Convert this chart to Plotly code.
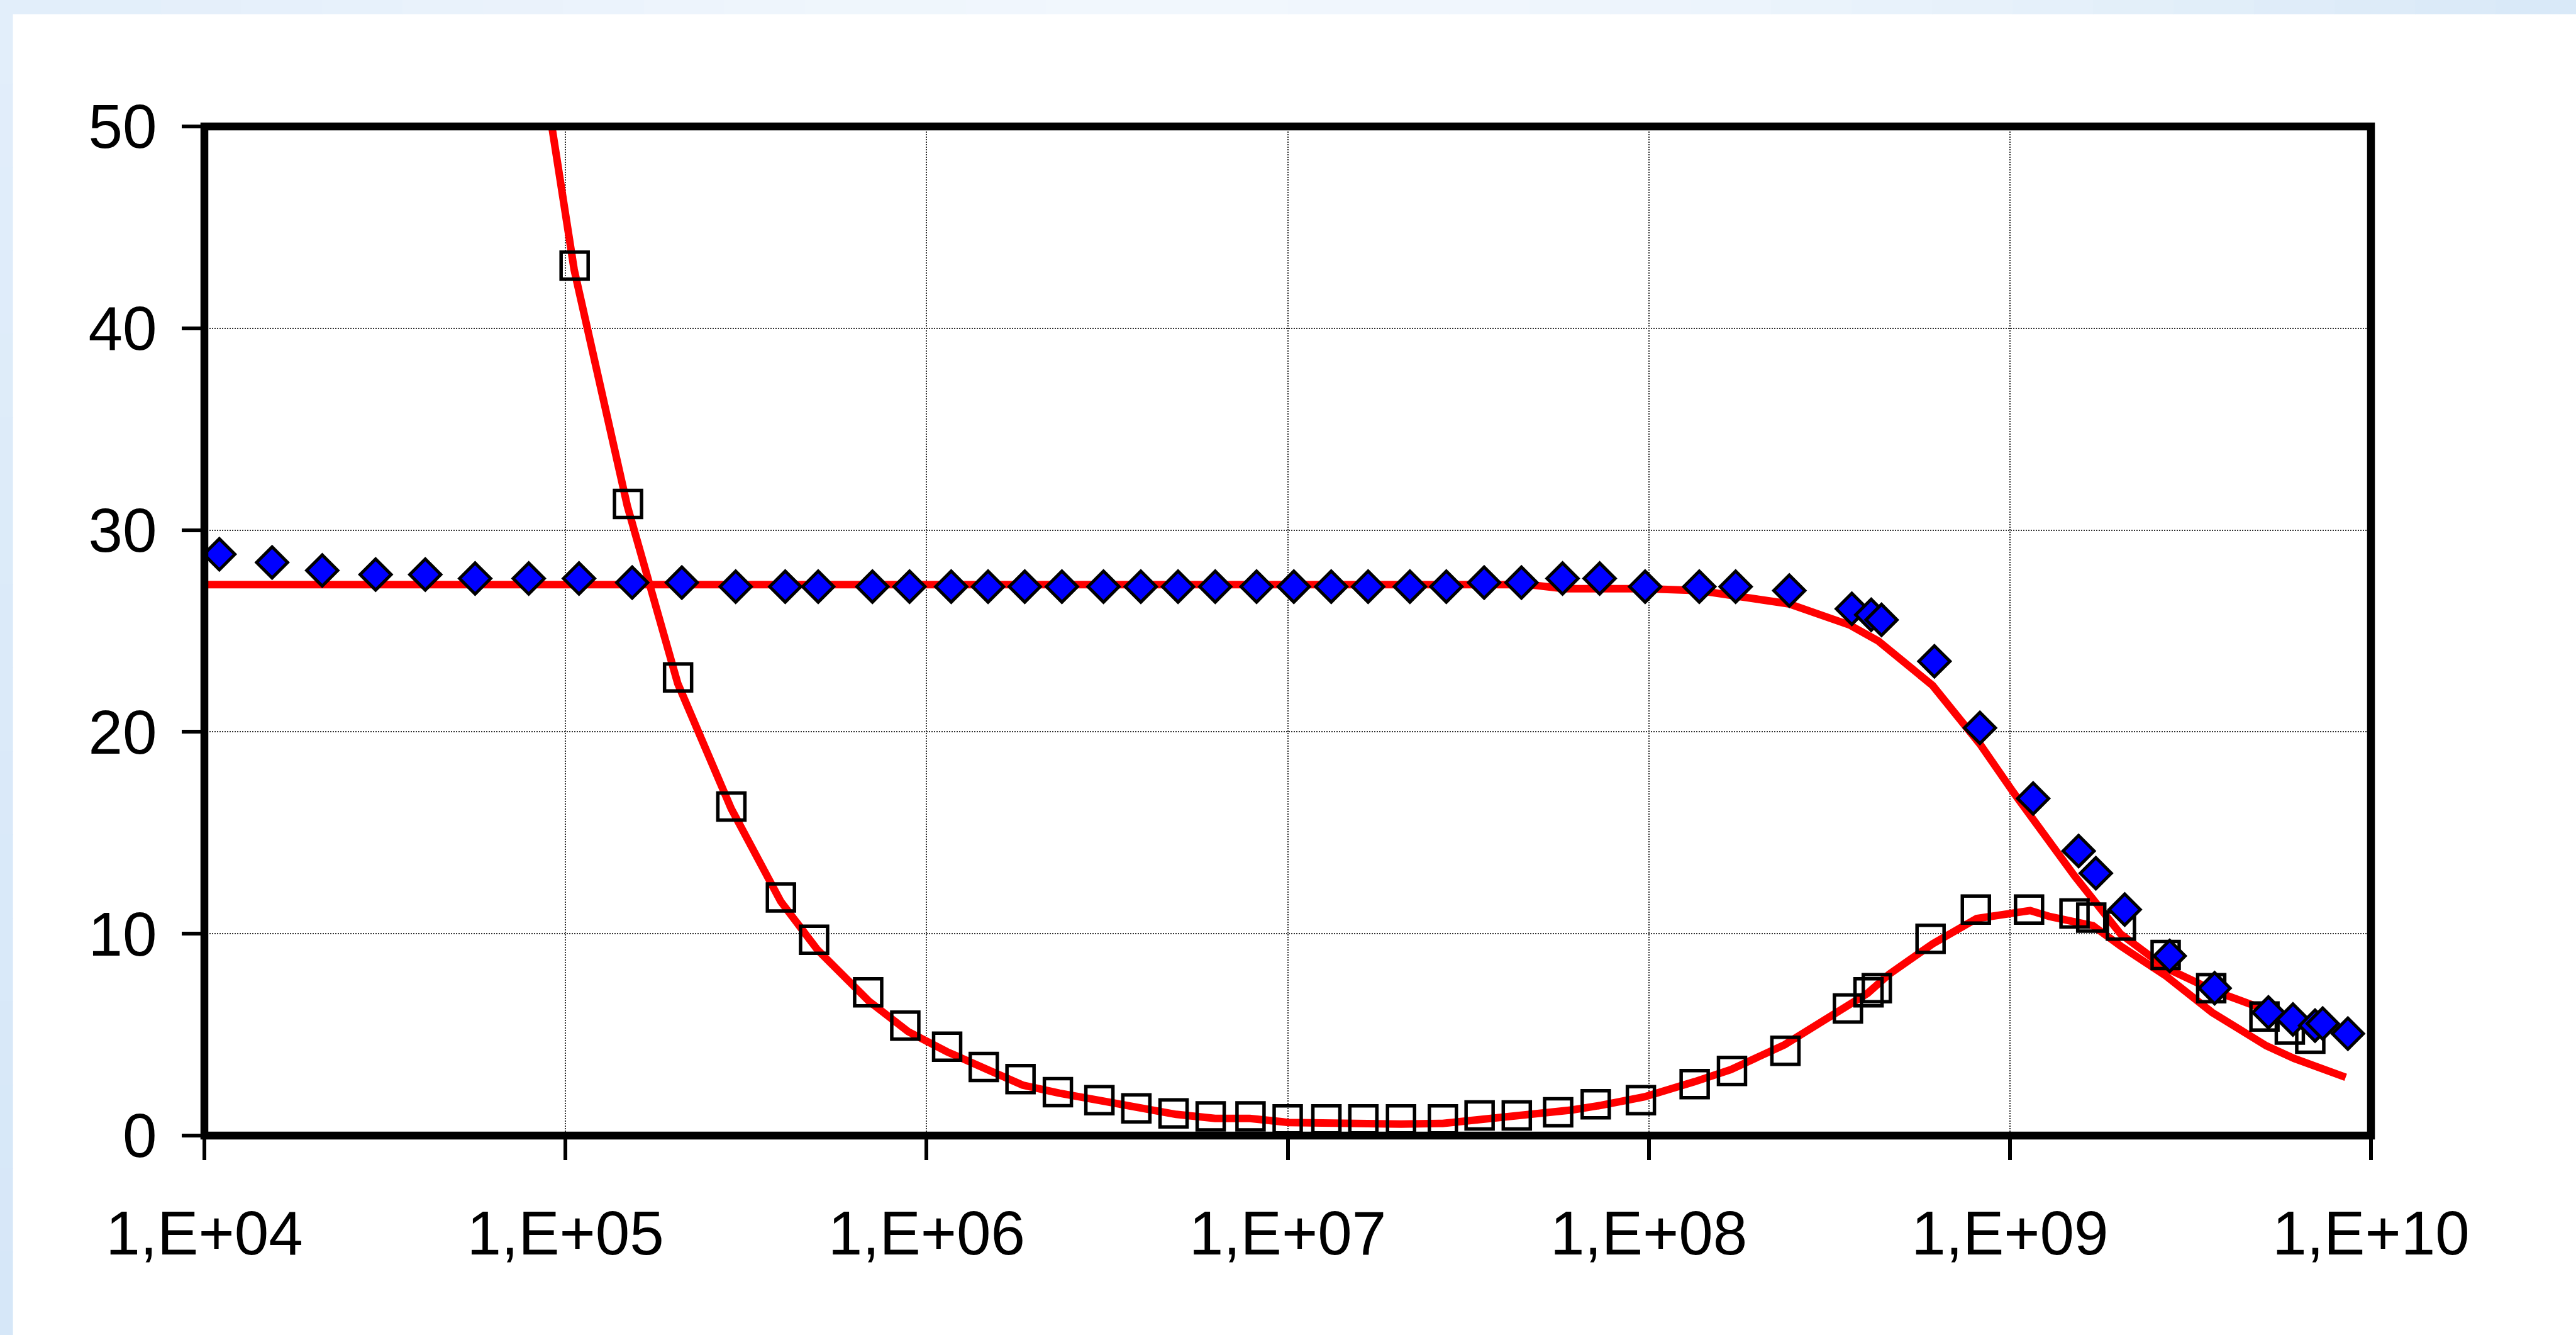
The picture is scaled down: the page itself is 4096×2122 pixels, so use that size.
import plotly.graph_objects as go

# ---------------- data ----------------
freq_meas1 = [1.10e4, 1.54e4, 2.12e4, 2.98e4, 4.09e4, 5.62e4, 7.91e4, 1.09e5, 1.53e5, 2.10e5,
              2.96e5, 4.06e5, 5.01e5, 7.08e5, 8.97e5, 1.17e6, 1.48e6, 1.87e6, 2.37e6, 3.09e6,
              3.92e6, 4.97e6, 6.30e6, 8.20e6, 1.04e7, 1.32e7, 1.67e7, 2.18e7, 2.75e7, 3.50e7,
              4.44e7, 5.77e7, 7.31e7, 9.77e7, 1.38e8, 1.74e8, 2.45e8, 3.65e8, 4.13e8, 4.41e8,
              6.18e8, 8.26e8, 1.16e9, 1.55e9, 1.73e9, 2.08e9, 2.77e9, 3.69e9, 5.20e9, 6.08e9,
              7.00e9, 7.35e9, 8.63e9]
eps_real = [28.8, 28.4, 28.0, 27.8, 27.8, 27.6, 27.6, 27.6, 27.4, 27.4,
            27.2, 27.2, 27.2, 27.2, 27.2, 27.2, 27.2, 27.2, 27.2, 27.2,
            27.2, 27.2, 27.2, 27.2, 27.2, 27.2, 27.2, 27.2, 27.2, 27.4,
            27.4, 27.6, 27.6, 27.2, 27.2, 27.2, 27.0, 26.1, 25.8, 25.55,
            23.5, 20.2, 16.7, 14.1, 13.0, 11.2, 8.9, 7.3, 6.1, 5.75,
            5.45, 5.55, 5.05]

freq_meas2 = [1.06e5, 1.49e5, 2.05e5, 2.88e5, 3.95e5, 4.88e5, 6.89e5, 8.73e5, 1.14e6, 1.44e6,
              1.82e6, 2.31e6, 3.01e6, 3.81e6, 4.83e6, 6.12e6, 7.89e6, 1.00e7, 1.28e7, 1.62e7,
              2.06e7, 2.69e7, 3.40e7, 4.31e7, 5.61e7, 7.13e7, 9.51e7, 1.34e8, 1.70e8, 2.39e8,
              3.56e8, 4.06e8, 4.28e8, 6.03e8, 8.05e8, 1.13e9, 1.51e9, 1.68e9, 2.03e9, 2.70e9,
              3.61e9, 5.07e9, 5.96e9, 6.79e9]
eps_imag = [43.1, 31.3, 22.7, 16.3, 11.8, 9.7, 7.1, 5.45, 4.4, 3.4,
            2.8, 2.15, 1.75, 1.35, 1.1, 0.95, 0.95, 0.8, 0.8, 0.8,
            0.8, 0.8, 1.0, 1.0, 1.15, 1.55, 1.75, 2.55, 3.2, 4.2,
            6.3, 7.1, 7.3, 9.75, 11.2, 11.2, 11.0, 10.8, 10.4, 8.95,
            7.3, 5.9, 5.25, 4.8]

freq_fit1 = [1.0e4, 4.656e7, 5.834e7, 9.727e7, 1.380e8, 1.758e8, 2.438e8, 3.597e8, 4.325e8,
             6.109e8, 8.260e8, 1.023e9, 1.514e9, 2.023e9, 2.710e9, 3.707e9, 5.164e9, 7.194e9]
fit_real = [27.3, 27.3, 27.1, 27.1, 27.0, 26.75, 26.35, 25.3, 24.5,
            22.3, 19.4, 17.0, 12.84, 10.0, 8.3, 7.15, 6.2, 5.45]

freq_fit2 = [9.02e4, 1.057e5, 1.483e5, 2.046e5, 2.877e5, 3.945e5, 4.989e5, 6.934e5, 8.892e5,
             1.140e6, 1.462e6, 1.845e6, 2.333e6, 3.076e6, 3.890e6, 4.909e6, 6.295e6, 7.852e6,
             1.005e7, 1.276e7, 1.618e7, 2.061e7, 2.685e7, 3.396e7, 4.656e7, 6.138e7, 7.379e7,
             9.727e7, 1.340e8, 1.687e8, 2.377e8, 3.516e8, 4.036e8, 4.634e8, 6.109e8, 8.091e8,
             1.138e9, 1.291e9, 1.698e9, 2.023e9, 2.710e9, 3.631e9, 5.129e9, 6.124e9, 7.295e9,
             8.511e9]
fit_imag = [50.8, 42.9, 31.2, 22.4, 16.2, 11.6, 9.2, 6.65, 5.15,
            4.15, 3.3, 2.5, 2.1, 1.7, 1.3, 1.05, 0.85, 0.85,
            0.65, 0.6, 0.58, 0.57, 0.6, 0.78, 1.0, 1.27, 1.5,
            1.92, 2.67, 3.27, 4.5, 6.35, 7.05, 8.0, 9.5, 10.75,
            11.15, 10.85, 10.4, 9.4, 7.9, 6.1, 4.45, 3.82, 3.3,
            2.89]

x_tickvals = [1e4, 1e5, 1e6, 1e7, 1e8, 1e9, 1e10]
x_ticktext = ["1,E+04", "1,E+05", "1,E+06", "1,E+07", "1,E+08", "1,E+09", "1,E+10"]
y_tickvals = [0, 10, 20, 30, 40, 50]
y_ticktext = ["0", "10", "20", "30", "40", "50"]

# ---------------- layout geometry ----------------
W, H = 4096, 2122
L, R, T, B = 325, 3770, 201, 1805
PW, PH = R - L, B - T

def px(xp):
    return (xp - L) / PW

def py(yp):
    return 1 - (yp - T) / PH

FONT = "Liberation Sans, Arial, sans-serif"
FS = 98

fig = go.Figure()

fig.add_trace(go.Scatter(x=freq_fit1, y=fit_real, mode="lines",
                         line=dict(color="#ff0000", width=12), showlegend=False))
fig.add_trace(go.Scatter(x=freq_fit2, y=fit_imag, mode="lines",
                         line=dict(color="#ff0000", width=12), showlegend=False))
fig.add_trace(go.Scatter(x=freq_meas2, y=eps_imag, mode="markers",
                         marker=dict(symbol="square", size=43, color="rgba(255,255,255,0)",
                                     line=dict(color="black", width=5.5)),
                         showlegend=False, cliponaxis=False))
fig.add_trace(go.Scatter(x=freq_meas1, y=eps_real, mode="markers",
                         marker=dict(symbol="diamond", size=38, color="#0000ff",
                                     line=dict(color="black", width=5)),
                         showlegend=False, cliponaxis=False))

# background gradient strips (top and left)
shapes = []
top_h = 22.5
left_w = 20.6
top_cols = [(226, 238, 250), (232, 241, 251), (238, 245, 252), (241, 247, 253),
            (240, 246, 253), (234, 243, 251), (226, 238, 249), (217, 233, 248)]
n = 32
for i in range(n):
    t = i / (n - 1) * (len(top_cols) - 1)
    k = min(int(t), len(top_cols) - 2)
    f = t - k
    c = tuple(int(round(top_cols[k][j] * (1 - f) + top_cols[k + 1][j] * f)) for j in range(3))
    x0 = W * i / n
    x1 = W * (i + 1) / n + 1
    shapes.append(dict(type="rect", xref="paper", yref="paper", layer="below",
                       x0=px(x0), x1=px(x1), y0=py(0), y1=py(top_h),
                       fillcolor="rgb(%d,%d,%d)" % c, line=dict(width=0)))
left_cols = [(226, 238, 250), (219, 234, 249), (214, 231, 248)]
m = 16
for i in range(m):
    t = i / (m - 1) * (len(left_cols) - 1)
    k = min(int(t), len(left_cols) - 2)
    f = t - k
    c = tuple(int(round(left_cols[k][j] * (1 - f) + left_cols[k + 1][j] * f)) for j in range(3))
    y0 = H * i / m
    y1 = H * (i + 1) / m + 1
    shapes.append(dict(type="rect", xref="paper", yref="paper", layer="below",
                       x0=px(0), x1=px(left_w), y0=py(y0), y1=py(y1),
                       fillcolor="rgb(%d,%d,%d)" % c, line=dict(width=0)))

# plot-area frame
shapes.append(dict(type="rect", xref="paper", yref="paper", layer="above",
                   x0=0, x1=1, y0=0, y1=1, line=dict(color="black", width=12.5),
                   fillcolor="rgba(0,0,0,0)"))

fig.update_layout(
    width=W, height=H,
    margin=dict(l=L, r=W - R, t=T, b=H - B, pad=0),
    paper_bgcolor="white", plot_bgcolor="white",
    shapes=shapes,
    showlegend=False,
    font=dict(family=FONT, color="black", size=FS),
)

fig.update_xaxes(type="log", range=[4, 10], tickvals=x_tickvals, ticktext=x_ticktext,
                 showline=False, ticks="outside", ticklen=38, tickwidth=5.5, tickcolor="black",
                 showgrid=True, gridcolor="#333333", gridwidth=1.5, griddash="2px,2px",
                 zeroline=False, ticklabelstandoff=32,
                 tickfont=dict(family=FONT, size=FS, color="black"))
fig.update_yaxes(range=[0, 50], tickvals=y_tickvals, ticktext=y_ticktext,
                 showline=False, ticks="outside", ticklen=35, tickwidth=5.5, tickcolor="black",
                 showgrid=True, gridcolor="#333333", gridwidth=1.5, griddash="2px,2px",
                 zeroline=False, ticklabelstandoff=20,
                 tickfont=dict(family=FONT, size=FS, color="black"))

fig.write_html("out.html")
